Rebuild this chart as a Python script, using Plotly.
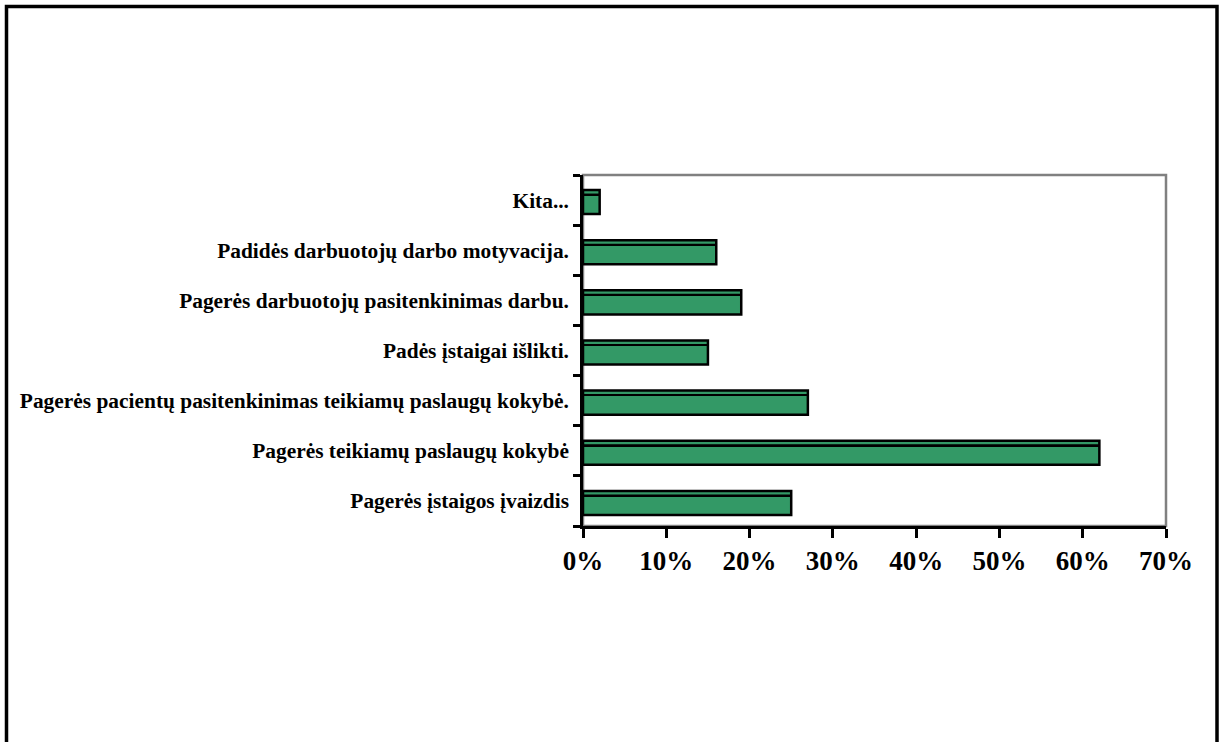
import plotly.graph_objects as go

# Survey answers, listed bottom to top, with share of respondents (%)
categories = [
    "Pagerės įstaigos įvaizdis",
    "Pagerės teikiamų paslaugų kokybė",
    "Pagerės pacientų pasitenkinimas teikiamų paslaugų kokybė.",
    "Padės įstaigai išlikti.",
    "Pagerės darbuotojų pasitenkinimas darbu.",
    "Padidės darbuotojų darbo motyvacija.",
    "Kita...",
]
values = [25, 62, 27, 15, 19, 16, 2]
x_ticks = [0, 10, 20, 30, 40, 50, 60, 70]
x_tick_labels = [f"{v}%" for v in x_ticks]

W, H = 1221, 742
FONT = "Liberation Serif"

fig = go.Figure()
# main bar body
fig.add_trace(go.Bar(
    y=categories,
    x=values,
    orientation="h",
    offset=-0.28, width=0.48,
    marker=dict(color="#339966", line=dict(color="#000000", width=2.5)),
    hoverinfo="x+y",
))
# thin dark edge near the top of each bar (pseudo-3D top face)
fig.add_trace(go.Bar(
    y=categories,
    x=values,
    orientation="h",
    offset=0.095, width=0.035,
    marker=dict(color="#000000", line=dict(width=0)),
    hoverinfo="skip",
))

# plot area in pixels
px_l, px_r, px_t, px_b = 583, 1166, 175, 526

fig.update_layout(
    width=W, height=H,
    margin=dict(l=0, r=0, t=0, b=0),
    paper_bgcolor="white",
    plot_bgcolor="white",
    showlegend=False,
    barmode="overlay",
    font=dict(family=FONT, color="black"),
    xaxis=dict(
        domain=[px_l / W, px_r / W],
        range=[0, 70],
        tickvals=x_ticks,
        ticktext=x_tick_labels,
        showgrid=False,
        zeroline=False,
        showline=True, linecolor="black", linewidth=2.5,
        ticks="outside", ticklen=9, tickwidth=2.5, tickcolor="black",
        tickfont=dict(family=FONT, size=27, color="black", weight="bold"),
        automargin=False,
        fixedrange=True,
    ),
    yaxis=dict(
        domain=[1 - px_b / H, 1 - px_t / H],
        type="category",
        categoryorder="array", categoryarray=categories,
        showgrid=False,
        zeroline=False,
        showline=True, linecolor="black", linewidth=2.5,
        ticks="outside", ticklen=7, tickwidth=2.5, tickcolor="black",
        tickson="boundaries",
        ticklabelstandoff=7,
        tickfont=dict(family=FONT, size=21.4, color="black", weight="bold"),
        automargin=False,
        fixedrange=True,
    ),
    shapes=[
        # grey frame of the plotting area
        dict(type="rect", xref="paper", yref="paper",
             x0=px_l / W, x1=px_r / W, y0=1 - px_b / H, y1=1 - px_t / H,
             line=dict(color="#808080", width=2.5), layer="below"),
        # outer black border of the figure
        dict(type="rect", xref="paper", yref="paper",
             x0=6.5 / W, x1=1217 / W, y0=-0.05, y1=1 - 6.5 / H,
             line=dict(color="black", width=3.5)),
    ],
)

fig.write_html("out.html")
